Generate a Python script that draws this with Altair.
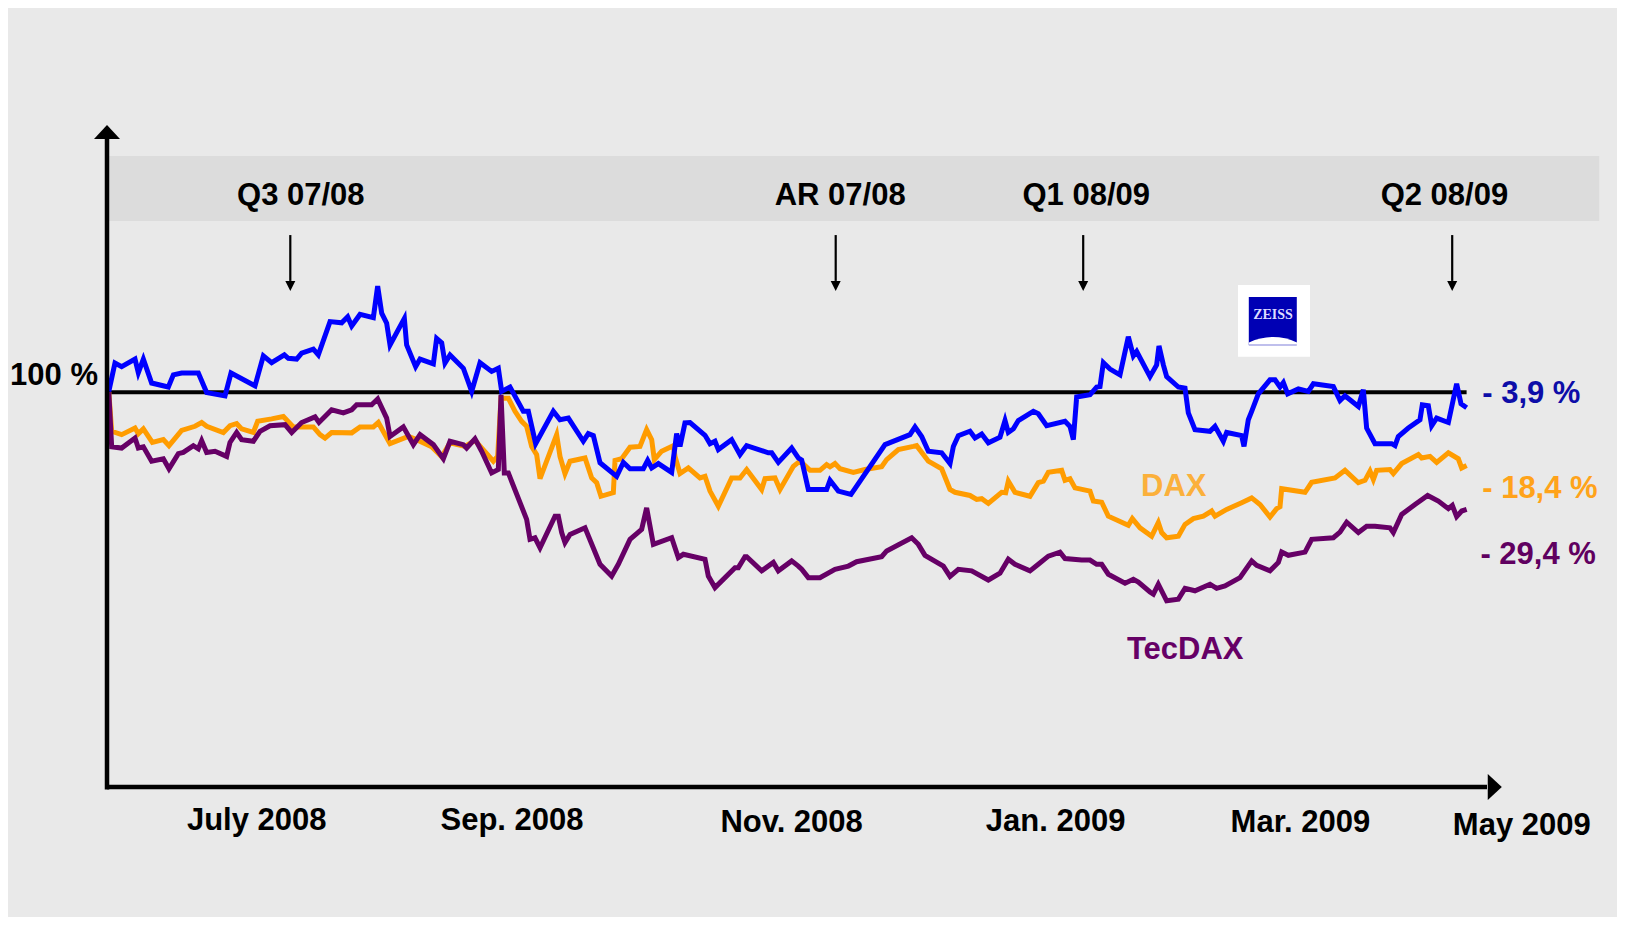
import altair as alt
import pandas as pd

# ---------------- data (x = trading-day index, y = indexed value, start = 100 %) -------------
zeiss_day = [0.3, 1.33, 2.44, 4.67, 5.22, 6.06, 7.44, 10.22, 11.06, 12.44, 15.22, 16.61, 19.67, 20.67,
             24.67, 26.06, 27.44, 29.56, 30.22, 31.61, 32.44, 34.39, 35.22, 37.17, 39.11, 40.11, 40.78,
             42.17, 44.39, 45.11, 45.78, 46.61, 47.17, 49.56, 49.94, 51.44, 52.17, 54.39, 54.94, 55.78,
             56.33, 57.17, 59.39, 60.78, 62.17, 64.11, 65.22, 65.78, 67.17, 69.39, 70.22, 71.44, 74.39,
             75.5, 76.89, 79.39, 80.22, 81.06, 82.17, 84.94, 86.06, 87.17, 89.39, 90.11, 90.78, 91.89,
             94.11, 94.94, 95.5, 96.33, 97.17, 99.67, 100.5, 101.33, 101.89, 104.11, 105.5, 106.61,
             110.22, 110.78, 111.89, 114.11, 115.22, 115.78, 116.89, 119.94, 120.5, 121.89, 124.0,
             129.67, 133.83, 134.67, 135.78, 136.89, 139.11, 140.5, 141.06, 141.89, 143.83, 144.67,
             145.78, 146.89, 148.83, 149.67, 150.22, 151.06, 151.89, 154.39, 155.22, 156.61, 159.67,
             160.5, 161.06, 161.61, 163.83, 164.94, 165.5, 166.06, 167.17, 168.83, 170.22, 171.06,
             171.61, 173.83, 174.94, 175.33, 176.06, 176.61, 178.56, 179.67, 180.22, 181.33, 183.83,
             184.67, 186.06, 186.61, 189.11, 189.5, 190.22, 190.78, 191.89, 193.83, 194.67, 195.5,
             196.06, 196.78, 198.56, 200.22, 201.06, 204.39, 205.5, 206.33, 208.56, 209.39, 209.94,
             211.33, 214.11, 214.67, 215.22, 216.89, 218.83, 219.22, 220.22, 220.78, 221.61, 223.56,
             224.94, 225.67, 226.61]
zeiss_val = [100.2, 107.3, 106.4, 108.3, 104.9, 108.3, 102.3, 101.3, 104.35, 104.8, 104.8, 99.9, 99.1,
             104.8, 101.6, 109.1, 107.4, 109.35, 108.5, 108.3, 109.8, 110.8, 109.35, 117.7, 117.4,
             118.9, 116.6, 119.5, 118.7, 126.6, 119.8, 117.3, 111.85, 118.5, 111.85, 106.4, 108.3,
             107.1, 113.5, 112.4, 107.3, 109.35, 106.0, 100.2, 107.4, 105.2, 106.0, 100.2, 101.3,
             95.2, 95.2, 87.1, 95.2, 93.1, 93.5, 87.7, 89.6, 89.1, 82.3, 78.9, 82.4, 80.8, 80.8, 82.9,
             81.0, 82.1, 79.9, 89.6, 86.4, 92.3, 92.4, 89.2, 87.1, 87.7, 85.6, 88.1, 84.35, 86.6,
             84.8, 84.8, 82.4, 86.0, 83.5, 83.0, 75.6, 75.6, 77.9, 75.2, 74.35, 86.85, 89.35, 91.3,
             88.9, 85.2, 84.8, 82.1, 86.4, 89.1, 90.2, 88.5, 89.5, 87.3, 88.7, 92.9, 89.9, 90.8, 92.9,
             95.2, 94.6, 91.6, 92.7, 91.4, 88.1, 98.8, 99.35, 101.3, 101.4, 107.4, 105.8, 104.35,
             113.9, 109.1, 110.2, 103.9, 106.85, 111.6, 106.85, 103.9, 101.3, 101.0, 94.8, 90.6,
             90.2, 91.45, 87.7, 89.9, 89.1, 86.4, 93.1, 95.2, 99.6, 103.1, 103.1, 101.3, 102.4, 99.6,
             100.8, 100.2, 102.1, 101.4, 97.9, 99.1, 96.4, 100.6, 91.0, 87.1, 87.1, 86.6, 88.9, 91.0,
             93.1, 96.85, 96.6, 91.6, 93.5, 92.4, 102.1, 97.1, 96.1]

dax_day = [0.3, 0.78, 2.44, 4.67, 5.22, 6.06, 7.56, 9.39, 10.33, 12.44, 14.67, 15.78, 16.61, 19.39,
           20.5, 21.61, 22.44, 24.39, 25.11, 27.44, 29.39, 31.06, 34.39, 35.5, 36.33, 37.44, 40.78,
           42.17, 44.39, 45.22, 47.17, 50.22, 51.61, 54.11, 55.78, 57.17, 59.67, 61.33, 64.39, 65.11,
           65.67, 66.89, 68.0, 69.11, 69.94, 70.78, 71.61, 72.17, 74.94, 75.5, 76.33, 77.17, 79.67,
           80.78, 81.61, 82.33, 84.39, 84.67, 85.78, 87.17, 88.83, 89.94, 90.78, 91.22, 92.44, 94.39,
           94.67, 95.5, 96.89, 98.83, 99.67, 100.5, 101.89, 104.11, 105.5, 106.61, 109.11, 109.67,
           111.33, 112.17, 114.39, 115.22, 115.78, 117.17, 118.83, 119.94, 120.5, 121.33, 122.17,
           124.39, 126.33, 129.11, 129.94, 131.89, 134.39, 134.94, 136.89, 139.11, 140.5, 141.33,
           143.83, 144.94, 145.78, 146.89, 149.11, 149.78, 150.22, 151.33, 153.83, 155.22, 156.06,
           156.89, 159.11, 159.67, 160.5, 161.33, 163.83, 164.39, 165.78, 166.89, 170.22, 170.89,
           172.17, 174.11, 175.22, 175.78, 176.61, 178.56, 179.67, 181.06, 182.72, 184.11, 184.67,
           186.61, 189.11, 190.78, 192.17, 193.83, 194.94, 195.5, 195.78, 199.67, 200.78, 204.67,
           206.33, 208.56, 209.67, 210.5, 211.06, 211.61, 213.83, 214.39, 215.78, 218.56, 219.11,
           220.5, 221.61, 223.56, 225.22, 225.78, 226.61]
dax_val = [100.0, 90.2, 89.35, 91.0, 89.6, 90.8, 87.4, 88.1, 86.6, 90.4, 91.45, 92.4, 91.45, 89.9,
           91.6, 92.1, 90.8, 89.9, 92.7, 93.3, 93.9, 91.3, 91.3, 89.35, 88.5, 89.9, 89.8, 91.3, 91.3,
           92.4, 87.1, 88.9, 88.1, 86.3, 83.8, 87.3, 86.4, 87.9, 82.7, 83.9, 98.5, 98.5, 95.2, 92.7,
           91.45, 86.4, 84.35, 78.3, 89.35, 83.9, 79.6, 82.7, 83.5, 78.5, 77.3, 73.9, 74.8, 82.9,
           83.3, 86.2, 86.4, 90.6, 88.1, 83.1, 85.2, 86.6, 83.9, 79.6, 81.0, 78.5, 78.9, 75.2, 71.4,
           78.5, 78.5, 80.6, 75.6, 78.3, 78.5, 75.6, 81.4, 82.4, 82.4, 80.4, 80.4, 81.85, 81.3, 82.1,
           80.8, 79.9, 80.6, 81.3, 83.1, 85.6, 86.4, 86.6, 82.7, 80.8, 75.6, 74.9, 74.1, 73.1, 73.3,
           72.1, 74.9, 74.8, 77.7, 74.9, 73.9, 77.3, 77.7, 79.9, 80.4, 77.9, 78.3, 76.0, 75.2, 72.7,
           72.4, 68.9, 66.6, 68.3, 66.0, 63.9, 67.3, 64.8, 63.5, 63.9, 66.85, 68.3, 68.9, 70.2, 68.9,
           70.6, 72.3, 73.5, 71.85, 68.7, 70.8, 71.3, 75.8, 74.9, 77.4, 78.5, 80.4, 77.3, 77.9, 80.2,
           78.1, 80.4, 80.6, 79.6, 82.1, 84.35, 83.5, 83.9, 82.4, 84.8, 83.3, 81.0, 81.6]

tec_day = [0.3, 0.78, 2.44, 4.67, 5.22, 6.06, 7.44, 9.39, 10.33, 11.89, 12.72, 14.39, 15.22, 15.78,
           16.61, 18.0, 19.94, 20.5, 21.61, 22.44, 24.39, 25.5, 27.17, 29.67, 30.78, 32.44, 34.67,
           35.33, 37.44, 39.39, 40.78, 41.61, 44.11, 45.11, 46.61, 47.17, 49.39, 51.06, 52.17, 54.39,
           56.06, 57.17, 59.39, 59.94, 61.33, 62.44, 64.11, 65.22, 65.67, 66.22, 66.89, 69.94, 70.5,
           71.33, 72.17, 74.67, 75.22, 75.78, 76.33, 77.17, 79.67, 82.17, 84.11, 85.22, 87.17, 89.11,
           89.94, 91.06, 94.11, 95.22, 96.06, 99.67, 100.22, 101.33, 104.67, 105.22, 106.33, 106.61,
           109.11, 111.06, 111.89, 114.11, 115.22, 115.78, 116.89, 118.83, 121.33, 123.56, 124.94,
           129.11, 129.94, 134.11, 135.22, 136.33, 139.39, 140.5, 141.89, 144.11, 146.89, 148.83,
           150.22, 151.33, 153.83, 155.22, 156.89, 158.83, 159.67, 162.44, 163.83, 164.94, 165.78,
           166.89, 169.67, 171.06, 171.89, 173.83, 174.39, 175.22, 176.61, 178.56, 179.67, 181.33,
           183.83, 184.94, 186.33, 188.83, 190.78, 191.61, 193.83, 195.22, 195.78, 196.89, 199.67,
           200.78, 204.39, 205.5, 206.61, 208.56, 209.94, 211.33, 213.83, 214.39, 215.78, 218.0,
           220.11, 221.89, 223.56, 224.22, 224.94, 225.78, 226.61]
tec_val = [100.0, 86.3, 86.0, 88.5, 86.0, 86.3, 82.7, 83.3, 80.8, 84.6, 84.9, 86.6, 85.8, 87.85, 84.9,
           85.2, 83.9, 87.4, 89.9, 88.1, 87.7, 90.2, 91.6, 91.85, 89.9, 92.4, 93.8, 92.4, 95.6, 94.8,
           95.6, 96.85, 96.85, 98.3, 93.5, 88.9, 91.3, 86.85, 89.35, 86.85, 83.3, 87.7, 86.85, 86.0,
           88.3, 85.2, 79.75, 80.6, 99.35, 79.75, 79.75, 68.1, 63.1, 63.5, 61.0, 68.9, 68.9, 64.8,
           62.3, 64.35, 66.0, 56.85, 53.9, 56.85, 63.1, 65.6, 71.0, 61.85, 63.5, 58.5, 59.35, 58.1,
           53.9, 51.0, 56.0, 56.0, 58.75, 58.75, 55.2, 57.3, 55.2, 57.7, 56.4, 55.6, 53.5, 53.5, 55.6,
           56.4, 57.5, 58.75, 60.2, 63.5, 61.85, 59.1, 56.4, 53.8, 55.6, 55.2, 52.9, 54.6, 58.1,
           56.85, 55.2, 56.85, 58.9, 59.9, 58.3, 57.9, 57.9, 56.85, 56.85, 54.35, 52.1, 53.1, 52.4,
           49.9, 49.35, 51.85, 47.7, 48.1, 50.8, 50.2, 51.85, 50.8, 51.4, 53.5, 57.7, 56.6, 55.2,
           57.3, 59.9, 59.1, 59.9, 63.1, 63.5, 64.9, 67.4, 64.8, 66.4, 66.4, 66.0, 64.8, 69.35,
           71.85, 74.1, 72.7, 70.8, 71.6, 68.8, 70.2, 70.6]

# annotations
event_labels = ["Q3 07/08", "AR 07/08", "Q1 08/09", "Q2 08/09"]
event_label_day = [32.3, 122.2, 163.2, 222.9]
event_arrow_day = [30.55, 121.45, 162.7, 224.2]
month_labels = ["July 2008", "Sep. 2008", "Nov. 2008", "Jan. 2009", "Mar. 2009", "May 2009"]
month_day = [24.95, 67.5, 114.1, 158.1, 198.9, 235.8]
month_y = [-7.0, -7.0, -7.6, -7.2, -7.6, -8.2]
end_labels = ["- 3,9 %", "- 18,4 %", "- 29,4 %"]
end_values = [100.0, 76.3, 59.6]
end_colors = ["#0d0da8", "#ffa31a", "#600060"]

X_DOMAIN = [0, 232.5]
Y_DOMAIN = [1, 167]
FONT = "Liberation Sans"
FS = 31
DY = 2

xs = alt.Scale(domain=X_DOMAIN, nice=False, zero=False)
ys = alt.Scale(domain=Y_DOMAIN, nice=False, zero=False)


def X(f):
    return alt.X(f, type="quantitative", scale=xs, axis=None)


def Y(f):
    return alt.Y(f, type="quantitative", scale=ys, axis=None)


# grey band behind the event labels
band_df = pd.DataFrame({"x": [0], "x2": [248.7], "y": [142.9], "y2": [159.2]})
band = alt.Chart(band_df).mark_rect(color="#dcdcdc").encode(
    x=X("x"), x2="x2", y=Y("y"), y2="y2")

# zeiss logo
logo_df = pd.DataFrame({"x": [188.5, 190.3], "x2": [200.5, 198.3], "y": [108.9, 111.8],
                        "y2": [126.9, 123.9], "c": ["#ffffff", "#0000b4"]})
logo_rects = alt.Chart(logo_df).mark_rect().encode(
    x=X("x"), x2="x2", y=Y("y"), y2="y2", color=alt.Color("c:N", scale=None))
logo_pt = pd.DataFrame({"x": [194.33], "y": [117.9], "yt": [119.3], "t": ["ZEISS"]})
logo_dome = alt.Chart(logo_pt).mark_point(
    shape="M-1,1L-1,0.9Q0,0.45 1,0.9L1,1Z", filled=True, size=2304, color="white",
    opacity=1, strokeWidth=0).encode(x=X("x"), y=Y("y"))
logo_text = alt.Chart(logo_pt).mark_text(
    font="Liberation Serif", fontWeight="bold", fontSize=14, color="#dcdcff").encode(
    x=X("x"), y=Y("yt"), text="t:N")

# 100 % reference line
ref_df = pd.DataFrame({"x": [0], "x2": [226.6], "y": [100]})
ref = alt.Chart(ref_df).mark_rule(color="black", strokeWidth=4).encode(
    x=X("x"), x2="x2", y=Y("y"))

# series
def series(days, vals, color):
    df = pd.DataFrame({"day": days, "value": vals})
    return alt.Chart(df).mark_line(color=color, strokeWidth=5).encode(
        x=X("day"), y=Y("value"), order="day:Q")

dax_line = series(dax_day, dax_val, "#ff9c00")
tec_line = series(tec_day, tec_val, "#660066")
zeiss_line = series(zeiss_day, zeiss_val, "#0000ff")

# axes drawn as arrows
axes_df = pd.DataFrame({"x": [0, 0], "x2": [0, 230.0], "y": [0.4, 1], "y2": [164.0, 1]})
axes = alt.Chart(axes_df).mark_rule(color="black", strokeWidth=4.5).encode(
    x=X("x"), x2="x2", y=Y("y"), y2="y2")
up_df = pd.DataFrame({"x": [0], "y": [165.25]})
up_head = alt.Chart(up_df).mark_point(
    shape="M-1,0.54L1,0.54L0,-0.54Z", filled=True, size=676, color="black",
    opacity=1, strokeWidth=0).encode(x=X("x"), y=Y("y"))
right_df = pd.DataFrame({"x": [231.3], "y": [1]})
right_head = alt.Chart(right_df).mark_point(
    shape="M-0.54,-1L0.54,0L-0.54,1Z", filled=True, size=676, color="black",
    opacity=1, strokeWidth=0).encode(x=X("x"), y=Y("y"))

# event arrows + labels
ev_df = pd.DataFrame({"label": event_labels, "lx": event_label_day, "ax": event_arrow_day,
                      "ly": [149.7] * 4, "y1": [139.4] * 4, "y2": [127.9] * 4, "hy": [126.6] * 4})
ev_text = alt.Chart(ev_df).mark_text(font=FONT, fontWeight="bold", fontSize=FS, color="black",
                                     dy=DY).encode(x=X("lx"), y=Y("ly"), text="label:N")
ev_rule = alt.Chart(ev_df).mark_rule(color="black", strokeWidth=2.2).encode(
    x=X("ax"), y=Y("y1"), y2="y2")
ev_head = alt.Chart(ev_df).mark_point(
    shape="M-1,-1L1,-1L0,1Z", filled=True, size=100, color="black", opacity=1,
    strokeWidth=0).encode(x=X("ax"), y=Y("hy"))

# month labels
m_df = pd.DataFrame({"label": month_labels, "x": month_day, "y": month_y})
m_text = alt.Chart(m_df).mark_text(font=FONT, fontWeight="bold", fontSize=FS, color="black",
                                   dy=DY).encode(x=X("x"), y=Y("y"), text="label:N")

# 100 % label
h_df = pd.DataFrame({"label": ["100 %"], "x": [-1.5], "y": [104.6]})
h_text = alt.Chart(h_df).mark_text(font=FONT, fontWeight="bold", fontSize=FS, color="black",
                                   align="right", dy=DY).encode(x=X("x"), y=Y("y"), text="label:N")

# end-value labels
e_df = pd.DataFrame({"label": end_labels, "x": [229.2, 229.2, 228.9], "y": end_values, "c": end_colors})
e_text = alt.Chart(e_df).mark_text(font=FONT, fontWeight="bold", fontSize=FS, align="left",
                                   dy=DY).encode(x=X("x"), y=Y("y"), text="label:N",
                                                 color=alt.Color("c:N", scale=None))

# series names
n_df = pd.DataFrame({"label": ["DAX", "TecDAX"], "x": [177.8, 179.7], "y": [76.7, 35.8],
                     "c": ["#fbb03b", "#660066"]})
n_text = alt.Chart(n_df).mark_text(font=FONT, fontWeight="bold", fontSize=FS, dy=DY).encode(
    x=X("x"), y=Y("y"), text="label:N", color=alt.Color("c:N", scale=None))

chart = alt.layer(
    band, logo_rects, logo_dome, logo_text, ref, dax_line, tec_line, zeiss_line,
    axes, up_head, right_head, ev_rule, ev_head, ev_text, m_text, h_text, e_text, n_text
).properties(
    width=1395, height=662,
    padding={"left": 99, "top": 117, "right": 115, "bottom": 130},
    autosize=alt.AutoSizeParams(type="none"),
    background="#e9e9e9",
).configure_view(stroke=None)

chart.save("out.html", embed_options={"renderer": "svg", "actions": False})
